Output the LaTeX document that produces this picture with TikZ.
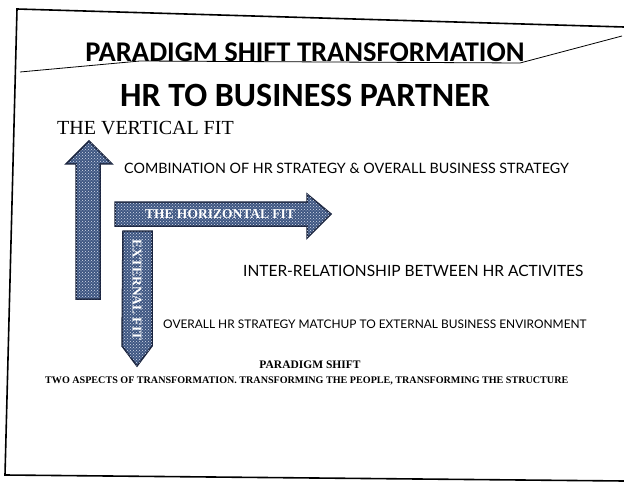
\documentclass[tikz,border=0pt]{standalone}
\usepackage{fontspec}
\setmainfont{Liberation Serif}
\newfontfamily\headfont{Carlito}
\newfontfamily\bodyfont{Lato}
\usetikzlibrary{patterns}
\definecolor{arrowfill}{RGB}{62,86,130}
\definecolor{arrowedge}{RGB}{25,35,62}
\definecolor{arrowdots}{RGB}{215,222,235}

\begin{document}
\begin{tikzpicture}[x=1pt,y=1pt]
            \tikzstyle{every node}+=[inner sep=0pt]
            \tikzstyle{fitarrow}=[draw=arrowedge, line width=1.5pt, fill=arrowfill, line join=miter]
            \tikzstyle{fitdots}=[pattern=crosshatch dots, pattern color=arrowdots]
            \tikzstyle{fittext}=[text=white, font=\bfseries\fontsize{13.5}{13.5}\selectfont]
            \useasboundingbox (0,0) rectangle (624,-484);
            % page frame and stray line
            \draw [black, line width=1.6pt] (624,-27) -- (17,-9) -- (5,-475) -- (624,-481);
            \draw [black, line width=0.8pt] (20,-72) -- (140,-61) -- (520,-63) -- (622,-36);
            % headings
            \draw (305,-52) node [font=\headfont\bfseries\fontsize{28.5}{28.5}\selectfont] (shift) {PARADIGM SHIFT TRANSFORMATION};
            \draw (305,-95) node [font=\headfont\bfseries\fontsize{34}{34}\selectfont] (partner) {HR TO BUSINESS PARTNER};
            \draw (57,-128) node [right, font=\fontsize{20}{20}\selectfont] (vertical) {THE VERTICAL FIT};
            % the three fit arrows
            \draw [fitarrow] (76,-299) -- (76,-164) -- (66,-164) -- (89,-141) -- (112,-164) -- (100,-164) -- (100,-299) -- cycle;
            \fill [fitdots] (76,-299) -- (76,-164) -- (66,-164) -- (89,-141) -- (112,-164) -- (100,-164) -- (100,-299) -- cycle;
            \draw [fitarrow] (115,-202) -- (307,-202) -- (307,-194) -- (331,-214) -- (307,-238) -- (307,-226) -- (115,-226) -- cycle;
            \fill [fitdots] (115,-202) -- (307,-202) -- (307,-194) -- (331,-214) -- (307,-238) -- (307,-226) -- (115,-226) -- cycle;
            \draw [fitarrow] (123,-231) -- (152,-231) -- (152,-346) -- (137,-366) -- (122,-346) -- cycle;
            \fill [fitdots] (123,-231) -- (152,-231) -- (152,-346) -- (137,-366) -- (122,-346) -- cycle;
            \draw (220,-214) node [fittext] (horizontal) {THE HORIZONTAL FIT};
            \draw (137,-290) node [fittext, rotate=-90] (external) {EXTERNAL FIT};
            % explanations
            \draw (124,-168) node [right, font=\bodyfont\fontsize{14.3}{14.3}\selectfont] (combo) {COMBINATION OF HR STRATEGY \& OVERALL BUSINESS STRATEGY};
            \draw (243,-271) node [right, font=\bodyfont\fontsize{15.5}{15.5}\selectfont] (inter) {INTER-RELATIONSHIP BETWEEN HR ACTIVITES};
            \draw (163,-324) node [right, font=\bodyfont\fontsize{11.9}{11.9}\selectfont] (matchup) {OVERALL HR STRATEGY MATCHUP TO EXTERNAL BUSINESS ENVIRONMENT};
            \draw (310,-365) node [font=\bfseries\fontsize{11.5}{11.5}\selectfont] (paradigm) {PARADIGM SHIFT};
            \draw (45,-381) node [right, font=\bfseries\fontsize{10.1}{10.1}\selectfont] (aspects) {TWO ASPECTS OF TRANSFORMATION. TRANSFORMING THE PEOPLE, TRANSFORMING THE STRUCTURE};
\end{tikzpicture}
\end{document}
